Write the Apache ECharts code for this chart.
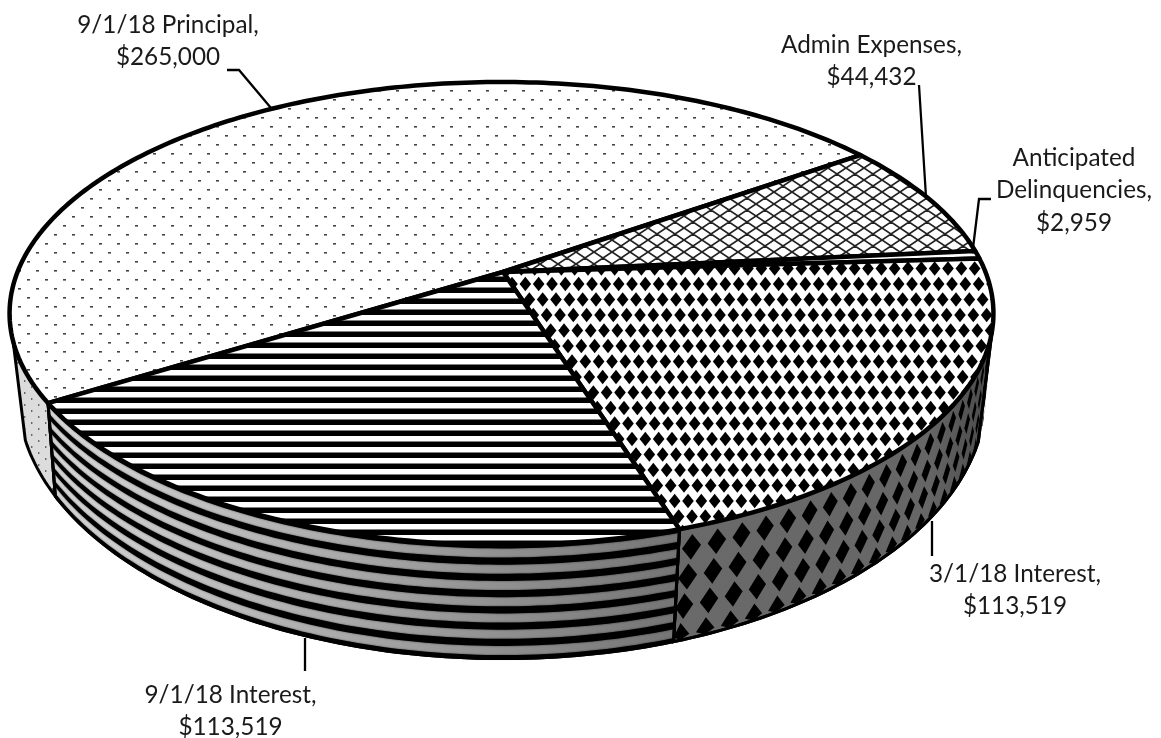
<!DOCTYPE html>
<html><head><meta charset="utf-8">
<style>html,body{margin:0;padding:0;background:#fff}#c{width:1161px;height:738px}</style>
<script src="https://cdn.jsdelivr.net/npm/echarts@6/dist/echarts.min.js"></script>
</head><body><div id="c"></div>
<script>
const categories = ['9/1/18 Principal','Admin Expenses','Anticipated Delinquencies','3/1/18 Interest','9/1/18 Interest'];
const values = [265000,44432,2959,113519,113519];

const labelLines = [['9/1/18 Principal,','$265,000'],['Admin Expenses,','$44,432'],['Anticipated','Delinquencies,','$2,959'],['3/1/18 Interest,','$113,519'],['9/1/18 Interest,','$113,519']];
const labelBox = [[168,25],[871.5,45],[1074,158],[1015,574],[230.5,695]];
const leaders = [
 [[227,70],[239,70],[271,108]],
 [[919,85],[926,197]],
 [[991,199],[979,199],[973,248]],
 [[932,521],[932,556]],
 [[305,638],[305,671]]
];
const startAngle = 212;
const TOP = {cx:501.5,y0:272,a:484,b:224,k:0.179,m:0};
const BOT = {cx:498,y0:348,a:476,b:255,k:0.179,m:-0.008};
const rad = Math.PI/180;
function rim(g,deg){const u=Math.cos(deg*rad),v=Math.sin(deg*rad),w=1+g.k*v+g.m*u;
 return [g.cx+g.a*u/w, g.y0-g.b*v/w];}
function surf(deg,z){const p=rim(TOP,deg),q=rim(BOT,deg);return [p[0]+(q[0]-p[0])*z,p[1]+(q[1]-p[1])*z];}
const total = values.reduce((s,x)=>s+x,0);
const angles=[];{let a=startAngle;values.forEach(x=>{const b=a-x/total*360;angles.push([a,b]);a=b;});}
function arc(from,to,z){const n=Math.max(2,Math.ceil(Math.abs(to-from)));const out=[];for(let i=0;i<=n;i++)out.push(surf(from+(to-from)*i/n,z));return out;}
function band(from,to,z0,z1){return arc(from,to,z0).concat(arc(to,from,z1));}
function tile(w,h,draw){const c=document.createElement('canvas');c.width=w;c.height=h;const x=c.getContext('2d');x.fillStyle='#fff';x.fillRect(0,0,w,h);draw(x);return c;}
function pat(c){return {image:c,repeat:'repeat'};}
const dotTile=tile(18,18,x=>{x.fillStyle='#444';x.fillRect(0,0,3,1.6);x.fillRect(9,9,3,1.6);});
const hatchTile=tile(18,12,x=>{x.strokeStyle='#222';x.lineWidth=1.7;x.beginPath();x.moveTo(0,0);x.lineTo(18,12);x.moveTo(0,12);x.lineTo(18,0);x.moveTo(-9,6);x.lineTo(9,-6);x.moveTo(9,18);x.lineTo(27,6);x.moveTo(-9,6);x.lineTo(9,18);x.moveTo(9,-6);x.lineTo(27,6);x.stroke();});
const stripeTile=tile(4,11,x=>{x.fillStyle='#000';x.fillRect(0,1.5,4,5.5);});
const diamondTile=tile(40,155,x=>{x.fillStyle='#000';for(let r=-1;r<11;r++)for(let c=-5;c<6;c++){const px=c*13.333+r*4,py=r*15.5+5;x.beginPath();x.moveTo(px,py-7.2);x.lineTo(px+5.8,py);x.lineTo(px,py+7.2);x.lineTo(px-5.8,py);x.closePath();x.fill();}});
const topFills=[pat(dotTile),pat(hatchTile),pat(dotTile),pat(diamondTile),pat(stripeTile)];
const sideDotTile=(()=>{const c=document.createElement('canvas');c.width=14;c.height=12;const x=c.getContext('2d');x.fillStyle='#dcdcdc';x.fillRect(0,0,14,12);x.fillStyle='#666';x.fillRect(3,2,1.4,2);x.fillRect(10,8,1.4,2);return c;})();

function renderSide(params,api){
 const i=params.dataIndex;const [a,b]=angles[i];
 const kids=[];const outline=band(a,b,0,1);
 if(i===0){
  const pts=arc(a,197,0).concat(arc(200,a,1));
  kids.push({type:'polygon',shape:{points:pts},style:{fill:pat(sideDotTile),stroke:'#000',lineWidth:3}});
 } else if(i===4){
  const grad={type:'linear',x:47,y:0,x2:680,y2:0,global:true,colorStops:[{offset:0,color:'#d8d8d8'},{offset:.45,color:'#ababab'},{offset:1,color:'#747474'}]};
  kids.push({type:'polygon',shape:{points:outline},style:{fill:grad,stroke:'#000',lineWidth:3}});
  const N=7;
  for(let r=0;r<=N;r++){const z0=Math.max(0,(r-.22)/N),z1=Math.min(1,(r+.22)/N);
   kids.push({type:'polygon',shape:{points:band(a,b,z0,z1)},style:{fill:'#000',shadowBlur:2,shadowColor:'rgba(0,0,0,.6)'}});}
  kids.push({type:'polygon',shape:{points:outline},style:{fill:'none',stroke:'#000',lineWidth:3}});
 } else if(i===3){
  const hi=-14,hiBot=-20;
  const wall=arc(hi,b,0).concat(arc(b,hiBot,1));
  const grad={type:'linear',x:680,y:0,x2:990,y2:0,global:true,colorStops:[{offset:0,color:'#6a6a6a'},{offset:.8,color:'#666'},{offset:1,color:'#4a4a4a'}]};
  kids.push({type:'polygon',shape:{points:wall},style:{fill:grad,stroke:'#000',lineWidth:3}});
  const step=2.75,cl=x=>Math.max(b,Math.min(hi,x)),cz=x=>Math.max(0,Math.min(1,x));
  for(let r=0;r<5;r++){const zc=.18+r*.26;
   for(let c=-2;c<40;c++){const tc=b+1.4+c*step-r*0.25;if(tc>hi+1)continue;
    const pts=[surf(cl(tc),cz(zc-.115)),surf(cl(tc+1.02),cz(zc)),surf(cl(tc),cz(zc+.115)),surf(cl(tc-1.02),cz(zc))];
    kids.push({type:'polygon',shape:{points:pts},style:{fill:'#000'}});}
  }
  kids.push({type:'polygon',shape:{points:wall},style:{fill:'none',stroke:'#000',lineWidth:3}});
 }
 return {type:'group',children:kids};
}
function renderTop(params,api){
 const i=params.dataIndex;const [a,b]=angles[i];
 const pts=[[503,272]].concat(arc(a,b,0));
 return {type:'polygon',shape:{points:pts},style:{fill:topFills[i],stroke:'#000',lineWidth:4.5,lineJoin:'round'}};
}
function renderLabel(params,api){
 const i=params.dataIndex;const kids=[];
 kids.push({type:'polyline',shape:{points:leaders[i]},style:{fill:'none',stroke:'#000',lineWidth:2.3}});
 labelLines[i].forEach((t,j)=>kids.push({type:'text',style:{text:t,x:labelBox[i][0],y:labelBox[i][1]+j*32.5,align:'center',verticalAlign:'middle',font:'24.3px Lato',fill:'#1a1a1a'}}));
 return {type:'group',children:kids};
}
const data=categories.map((n,i)=>({name:n,value:values[i]}));
const chart=echarts.init(document.getElementById('c'),null,{renderer:'canvas'});
chart.setOption({animation:false,backgroundColor:'#fff',tooltip:{show:false},series:[
 {type:'custom',coordinateSystem:'none',name:'side',z:2,silent:true,renderItem:renderSide,data:data},
 {type:'custom',coordinateSystem:'none',name:'top',z:3,silent:true,renderItem:renderTop,data:data},
 {type:'custom',coordinateSystem:'none',name:'labels',z:4,silent:true,renderItem:renderLabel,data:data}
]});
</script></body></html>
